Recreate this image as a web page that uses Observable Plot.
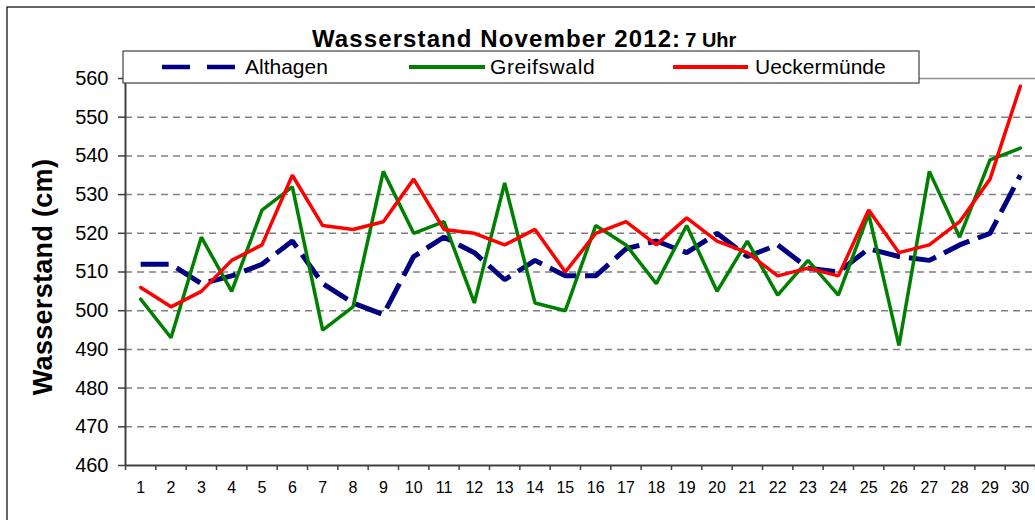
<!DOCTYPE html>
<html>
<head>
<meta charset="utf-8">
<script src="https://cdn.jsdelivr.net/npm/d3@7"></script>
<script src="https://cdn.jsdelivr.net/npm/@observablehq/plot@0.6"></script>
<style>
  html, body { margin: 0; padding: 0; background: #fff; overflow: hidden; }
  #wrap { position: relative; width: 1035px; height: 520px; font-family: "Liberation Sans", Arial, sans-serif; }
  #wrap > svg { position: absolute; left: 0; top: 0; }
</style>
</head>
<body>
<div id="wrap"></div>
<script>
// ---- data ----
const days = d3.range(1, 31);
const dayBounds = d3.range(0.5, 31, 1);
const yTicks = d3.range(460, 561, 10);
const gridTicks = [470, 480, 490, 500, 510, 520, 530, 540, 550];

const althagen = [512, 512, 507, 509, 512, 518, 507, 502, 499, 514, 519, 515, 508, 513, 509, 509, 516, 518, 515, 520, 514, 517, 511, 510, 516, 514, 513, 517, 520, 535];
const greifswald = [503, 493, 519, 505, 526, 532, 495, 501, 536, 520, 523, 502, 533, 502, 500, 522, 517, 507, 522, 505, 518, 504, 513, 504, 525, 491, 536, 519, 539, 542];
const ueckermuende = [506, 501, 505, 513, 517, 535, 522, 521, 523, 534, 521, 520, 517, 521, 510, 520, 523, 517, 524, 518, 515, 509, 511, 509, 526, 515, 517, 523, 534, 558];

const seriesNames = ["Althagen", "Greifswald", "Ueckermünde"];
const titleMain = "Wasserstand November 2012:";
const titleSub = "7 Uhr";
const yLabel = "Wasserstand (cm)";

const rows = (vals) => days.map((d, i) => ({day: d, v: vals[i]}));

const chart = Plot.plot({
  width: 1035,
  height: 520,
  marginLeft: 125,
  marginRight: 0,
  marginTop: 78,
  marginBottom: 55,
  style: {fontFamily: "'Liberation Sans', Arial, sans-serif", background: "transparent", overflow: "visible"},
  x: {type: "linear", domain: [0.5, 30.5]},
  y: {domain: [460, 560]},
  marks: [
    Plot.ruleY(gridTicks, {stroke: "#808080", strokeWidth: 1.5, strokeDasharray: "7,5"}),
    Plot.ruleY([560], {stroke: "#909090", strokeWidth: 1.5}),
    Plot.line(rows(althagen), {x: "day", y: "v", stroke: "#000080", strokeWidth: 5, strokeDasharray: "28,9", strokeLinejoin: "miter", strokeLinecap: "butt"}),
    Plot.line(rows(greifswald), {x: "day", y: "v", stroke: "#008000", strokeWidth: 3.5, strokeLinejoin: "miter"}),
    Plot.line(rows(ueckermuende), {x: "day", y: "v", stroke: "#ff0000", strokeWidth: 3.5, strokeLinejoin: "miter"}),
    Plot.ruleY([460], {stroke: "#404040", strokeWidth: 2}),
    Plot.ruleX([0.5], {stroke: "#404040", strokeWidth: 2}),
    Plot.axisY({ticks: yTicks, tickSize: 7, tickPadding: 10, fontSize: 20, label: null, stroke: "#404040", strokeWidth: 1.5, color: "#000"}),
    Plot.axisX({ticks: dayBounds, tickSize: 5, tickFormat: () => "", label: null, stroke: "#404040", strokeWidth: 1.5}),
    Plot.axisX({ticks: days, tickSize: 0, tickPadding: 16, fontSize: 16, label: null, tickFormat: d => String(d), color: "#000"})
  ]
});

const wrap = document.getElementById("wrap");
wrap.appendChild(chart);

// ---- overlay: frame, title, legend, y label ----
const ov = d3.create("svg").attr("width", 1035).attr("height", 520)
  .style("font-family", "'Liberation Sans', Arial, sans-serif");

ov.append("rect").attr("x", 7).attr("y", 7).attr("width", 1200).attr("height", 700)
  .attr("fill", "none").attr("stroke", "#000").attr("stroke-width", 1.2);

const t = ov.append("text").attr("x", 312).attr("y", 47).attr("font-weight", "bold").attr("fill", "#000");
t.append("tspan").attr("font-size", 24).attr("letter-spacing", "1.1px").text(titleMain);
t.append("tspan").attr("font-size", 20).attr("dx", 4).attr("letter-spacing", "0px").text(titleSub);

ov.append("text")
  .attr("transform", "translate(52,277) rotate(-90)")
  .attr("text-anchor", "middle")
  .attr("font-size", 27).attr("font-weight", "bold").attr("letter-spacing", "0.3px")
  .text(yLabel);

const lg = ov.append("g").attr("transform", "translate(123,51)");
lg.append("rect").attr("x", 0).attr("y", 0).attr("width", 796).attr("height", 32)
  .attr("fill", "#fff").attr("stroke", "#404040").attr("stroke-width", 1.2);
const items = [
  {x1: 39, x2: 112, tx: 122, color: "#000080", dash: "28,17", w: 4.5, ls: "0px"},
  {x1: 286, x2: 362, tx: 367, color: "#008000", dash: null, w: 4, ls: "0.6px"},
  {x1: 550, x2: 625, tx: 632, color: "#ff0000", dash: null, w: 4, ls: "0px"}
];
items.forEach((it, i) => {
  const l = lg.append("line").attr("x1", it.x1).attr("x2", it.x2).attr("y1", 16).attr("y2", 16)
    .attr("stroke", it.color).attr("stroke-width", it.w);
  if (it.dash) l.attr("stroke-dasharray", it.dash);
  lg.append("text").attr("x", it.tx).attr("y", 23).attr("font-size", 21).attr("letter-spacing", it.ls)
    .attr("fill", "#000").text(seriesNames[i]);
});

wrap.appendChild(ov.node());
</script>
</body>
</html>
